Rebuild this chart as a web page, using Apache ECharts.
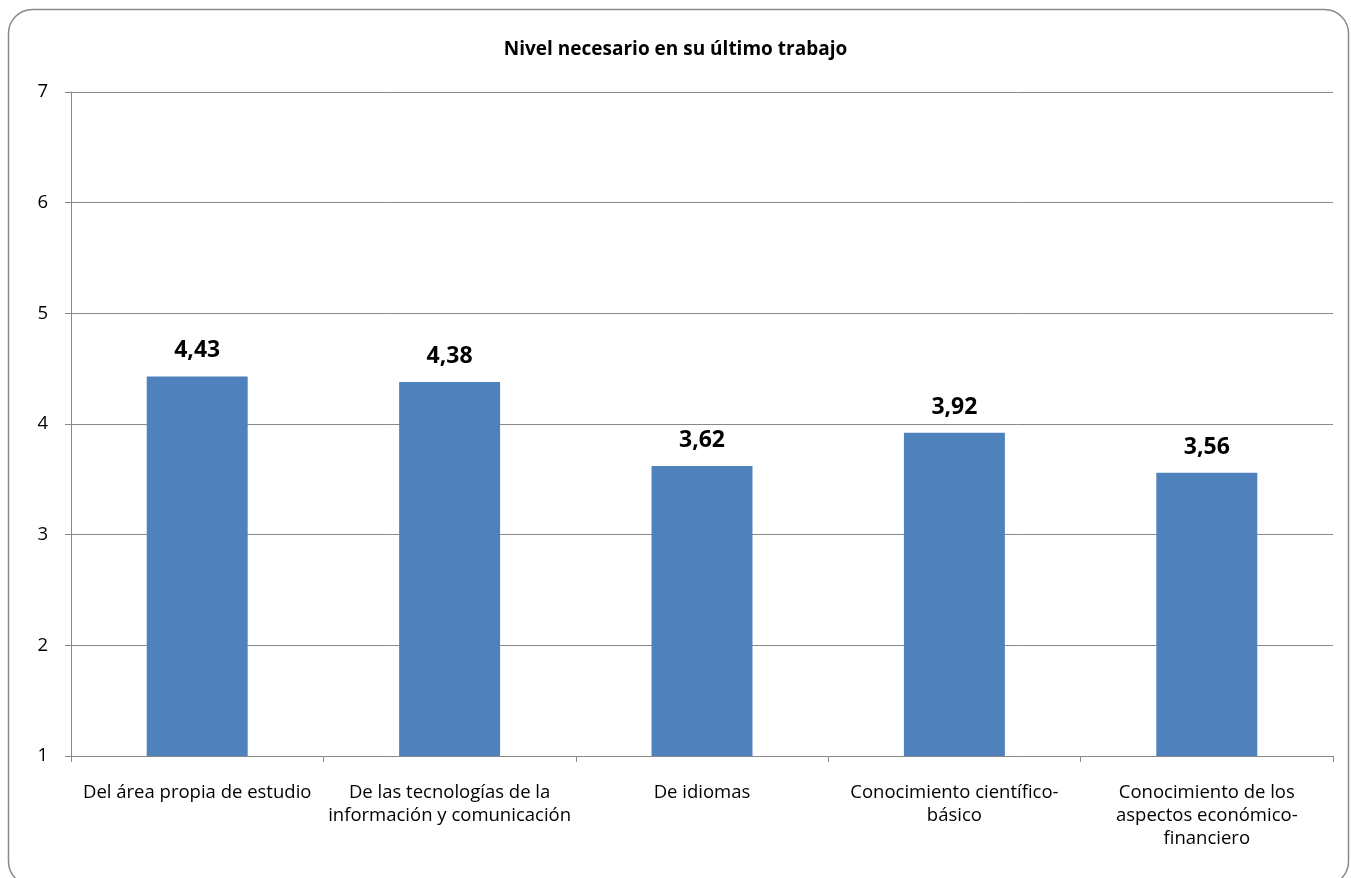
<!DOCTYPE html>
<html><head><meta charset="utf-8">
<script src="https://cdn.jsdelivr.net/npm/echarts@6/dist/echarts.min.js"></script>
<style>html,body{margin:0;padding:0;background:#fff}#c{width:1351px;height:878px}</style>
</head><body><div id="c"></div>
<script>
const titleText = 'Nivel necesario en su último trabajo';
const categories = ['Del área propia de estudio', 'De las tecnologías de la\ninformación y comunicación', 'De idiomas', 'Conocimiento científico-\nbásico', 'Conocimiento de los\naspectos económico-\nfinanciero'];
const values = [4.43, 4.38, 3.62, 3.92, 3.56];
const yMin = 1, yMax = 7, yStep = 1;

const chart = echarts.init(document.getElementById('c'));
const font = 'Open Sans, Noto Sans, sans-serif';
chart.setOption({
  animation: false,
  textStyle: {fontFamily: font},
  title: {text: titleText, left: 'center', top: 35,
    textStyle: {fontSize: 19, fontWeight: 'bold', color: '#000', fontFamily: font}},
  graphic: [{type: 'rect', shape: {x: 8.5, y: 9.5, width: 1340, height: 876, r: 24},
    style: {fill: 'none', stroke: '#8a8a8a', lineWidth: 1.5}, z: -1}],
  grid: {left: 71, top: 92, right: 18, bottom: 122},
  xAxis: {type: 'category', data: categories,
    axisLine: {lineStyle: {color: '#888', width: 1}},
    axisTick: {show: true, length: 6, lineStyle: {color: '#888'}},
    axisLabel: {color: '#000', fontSize: 18.5, margin: 25, lineHeight: 23, interval: 0, fontFamily: font}},
  yAxis: {type: 'value', min: yMin, max: yMax, interval: yStep,
    axisLine: {show: true, lineStyle: {color: '#888'}},
    axisTick: {show: true, length: 6, lineStyle: {color: '#888'}},
    splitLine: {lineStyle: {color: '#888', width: 1}},
    axisLabel: {color: '#000', fontSize: 18.5, margin: 23, fontFamily: font}},
  series: [{type: 'bar', data: values, barWidth: '40%',
    itemStyle: {color: '#4F81BD'},
    label: {show: true, position: 'top', distance: 14, color: '#000', fontWeight: 'bold', fontSize: 23, fontFamily: font,
      formatter: p => p.value.toFixed(2).replace('.', ',')}}]
});
</script></body></html>
